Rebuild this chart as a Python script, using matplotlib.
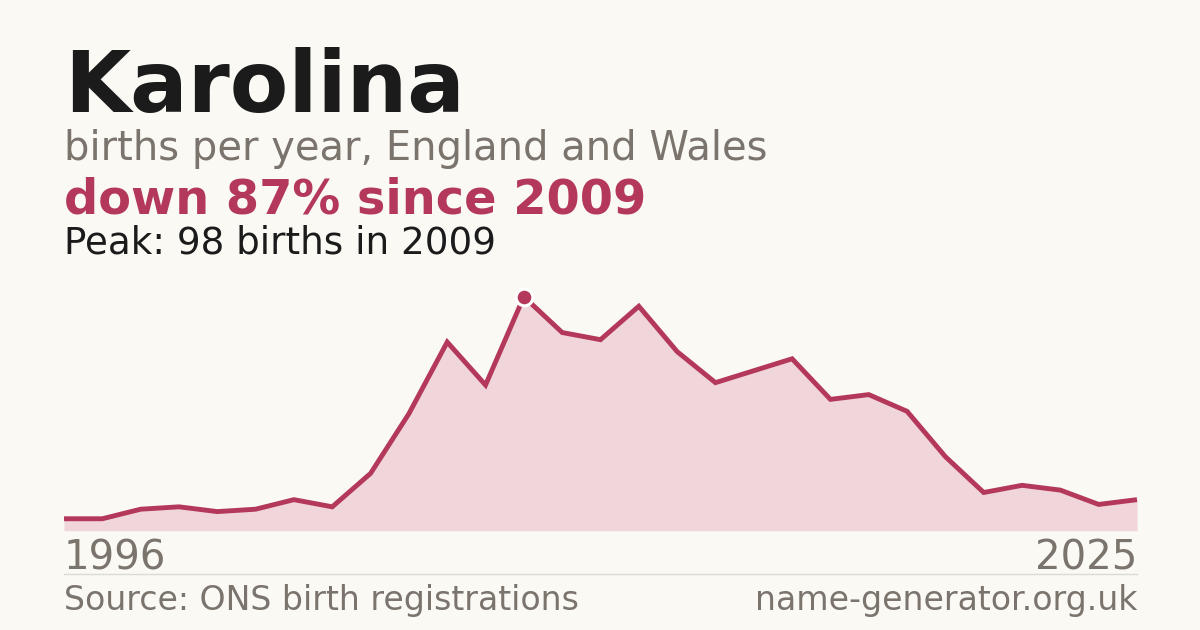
import matplotlib
matplotlib.use("Agg")
import matplotlib.pyplot as plt

# births per year for the name (one year missing from the series)
years = [1996, 1998, 1999, 2000, 2001, 2002, 2003, 2004, 2005, 2006,
         2007, 2008, 2009, 2010, 2011, 2012, 2013, 2014, 2015, 2016,
         2017, 2018, 2019, 2020, 2021, 2022, 2023, 2024, 2025]
births = [5, 5, 9, 10, 8, 9, 13, 10, 24, 49,
          79, 61, 98, 83, 80, 94, 75, 62, 67, 72,
          55, 57, 50, 31, 16, 19, 17, 11, 13]

name = "Karolina"
subtitle = "births per year, England and Wales"
source = "Source: ONS birth registrations"
site = "name-generator.org.uk"

BG = "#faf9f4"
RED = "#b3385a"
FILL = "#f0d5da"
GREY = "#7a746c"
DARK = "#1b1b1b"

W, H = 1200, 630


def fy(px):
    return 1 - px / H


fig = plt.figure(figsize=(12, 6.3), dpi=100, facecolor=BG)
plt.rcParams["font.family"] = ["DejaVu Sans"]

peak_i = births.index(max(births))
peak_year = years[peak_i]
drop = round(100 * (births[peak_i] - births[-1]) / births[peak_i])

# text block
fig.text(64 / W, fy(112), name, fontsize=61.5, fontweight="bold", color=DARK, va="baseline")
fig.text(64 / W, fy(160), subtitle, fontsize=28.8, color=GREY, va="baseline")
fig.text(64 / W, fy(214), f"down {drop}% since {peak_year}", fontsize=34.5,
         fontweight="bold", color=RED, va="baseline")
fig.text(64 / W, fy(253), f"Peak: {births[peak_i]} births in {peak_year}",
         fontsize=26.8, color=DARK, va="baseline")

# area chart
ax = fig.add_axes([64 / W, fy(530.7), (1137 - 64) / W, (530.7 - 296.7) / H])
ax.set_facecolor("none")
xs = list(range(len(births)))
ax.fill_between(xs, births, 0, color=FILL, lw=0)
ax.plot(xs, births, color=RED, lw=3.5, solid_joinstyle="miter",
        solid_capstyle="butt", clip_on=False)
ax.plot([peak_i], [births[peak_i]], "o", ms=12, color=RED, mec="white", mew=2.2,
        clip_on=False, zorder=5)
ax.set_xlim(0, len(births) - 1)
ax.set_ylim(0, max(births))
ax.axis("off")

# year labels, rule and footer
fig.text(64 / W, fy(570), str(years[0]), fontsize=29, color=GREY, va="baseline")
fig.text(1137 / W, fy(570), str(years[-1]), fontsize=29, color=GREY, va="baseline", ha="right")
fig.add_artist(plt.Line2D([64 / W, 1137 / W], [fy(574), fy(574)], color="#dcdad4", lw=1))
fig.text(64 / W, fy(610), source, fontsize=23.9, color=GREY, va="baseline")
fig.text(1137 / W, fy(610), site, fontsize=23.9, color=GREY, va="baseline", ha="right")

fig.savefig("out.png", dpi=100, facecolor=BG)
